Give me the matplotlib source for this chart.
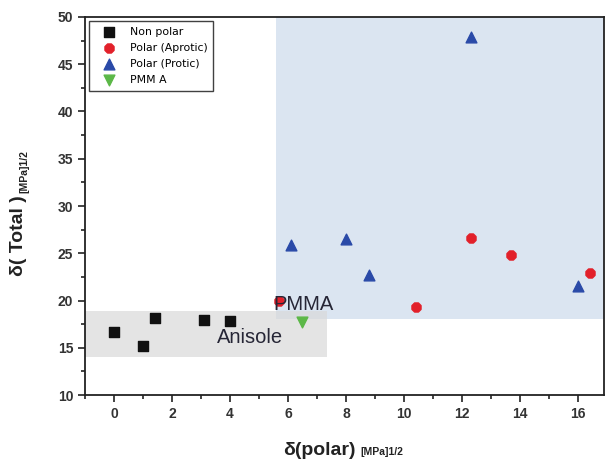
import numpy as np
import matplotlib
matplotlib.use('Agg')
import matplotlib.pyplot as plt
from matplotlib.patches import Rectangle
from matplotlib.ticker import MultipleLocator

plt.rcParams['font.family'] = ['Liberation Sans', 'DejaVu Sans']

# data
nonpolar_x = [0.0, 1.0, 1.4, 3.1, 4.0]
nonpolar_y = [16.7, 15.2, 18.1, 17.9, 17.8]
aprotic_x = [5.7, 10.4, 12.3, 13.7, 16.4]
aprotic_y = [19.9, 19.3, 26.6, 24.8, 22.9]
protic_x = [6.1, 8.0, 8.8, 12.3, 16.0]
protic_y = [25.9, 26.5, 22.7, 47.9, 21.5]
pmma_x = [6.5]
pmma_y = [17.7]

# shaded regions (x0, x1, y0, y1)
polar_box = (5.6, 16.9, 18.0, 50.0)
anisole_box = (-1.0, 7.35, 14.0, 18.9)

fig = plt.figure(figsize=(6.06, 4.65), dpi=100)
ax = fig.add_axes([85/606, 1-395/465, 519/606, 378/465])

ax.add_patch(Rectangle((polar_box[0], polar_box[2]), polar_box[1]-polar_box[0],
                       polar_box[3]-polar_box[2], facecolor='#dbe5f1', edgecolor='none', zorder=0))
ax.add_patch(Rectangle((anisole_box[0], anisole_box[2]), anisole_box[1]-anisole_box[0],
                       anisole_box[3]-anisole_box[2], facecolor='#d9d9d9', alpha=0.7,
                       edgecolor='none', zorder=1))

ax.scatter(nonpolar_x, nonpolar_y, marker='s', s=48, color='#111111', label='Non polar', zorder=3)
ax.scatter(aprotic_x, aprotic_y, marker='8', s=50, color='#e2202a', label='Polar (Aprotic)', zorder=3)
ax.scatter(protic_x, protic_y, marker='^', s=60, color='#2a4aa8', label='Polar (Protic)', zorder=3)
ax.scatter(pmma_x, pmma_y, marker='v', s=60, color='#5cb848', label='PMM A', zorder=3)

ax.text(6.55, 19.6, 'PMMA', fontsize=14.5, color='#262636', ha='center', va='center', zorder=4)
ax.text(4.7, 16.1, 'Anisole', fontsize=14.5, color='#262636', ha='center', va='center', zorder=4)

ax.set_xlim(-1, 16.9)
ax.set_ylim(10, 50)
ax.xaxis.set_major_locator(MultipleLocator(2))
ax.xaxis.set_minor_locator(MultipleLocator(1))
ax.yaxis.set_major_locator(MultipleLocator(5))
ax.yaxis.set_minor_locator(MultipleLocator(2.5))
ax.tick_params(which='both', direction='out', width=1.2, colors='#222222')
ax.tick_params(which='major', length=5, labelsize=10)
ax.tick_params(which='minor', length=3)
for lab in ax.get_xticklabels() + ax.get_yticklabels():
    lab.set_fontweight('bold')
    lab.set_color('#333333')
for sp in ax.spines.values():
    sp.set_linewidth(1.3)
    sp.set_color('#222222')

leg = ax.legend(loc='upper left', bbox_to_anchor=(0.008, 0.99), borderaxespad=0,
                prop={'family': 'DejaVu Sans', 'size': 7.8}, frameon=True, fancybox=False,
                edgecolor='#111111', labelspacing=0.55, handletextpad=0.7,
                borderpad=0.55, handlelength=2.5)
leg.get_frame().set_linewidth(1.0)

# axis labels with small unit text
fig.text(0.587, 0.032, 'δ(polar)', fontsize=14, fontweight='bold', ha='right', va='center', color='#222222')
fig.text(0.594, 0.028, '[MPa]1/2', fontsize=7.5, fontweight='bold', ha='left', va='center', color='#222222')
fig.text(0.031, 0.581, 'δ( Total )', fontsize=14, fontweight='bold', rotation=90,
         ha='center', va='top', color='#222222')
fig.text(0.040, 0.585, '[MPa]1/2', fontsize=7.5, fontweight='bold', rotation=90,
         ha='center', va='bottom', color='#222222')

fig.savefig('out.png', dpi=100)
